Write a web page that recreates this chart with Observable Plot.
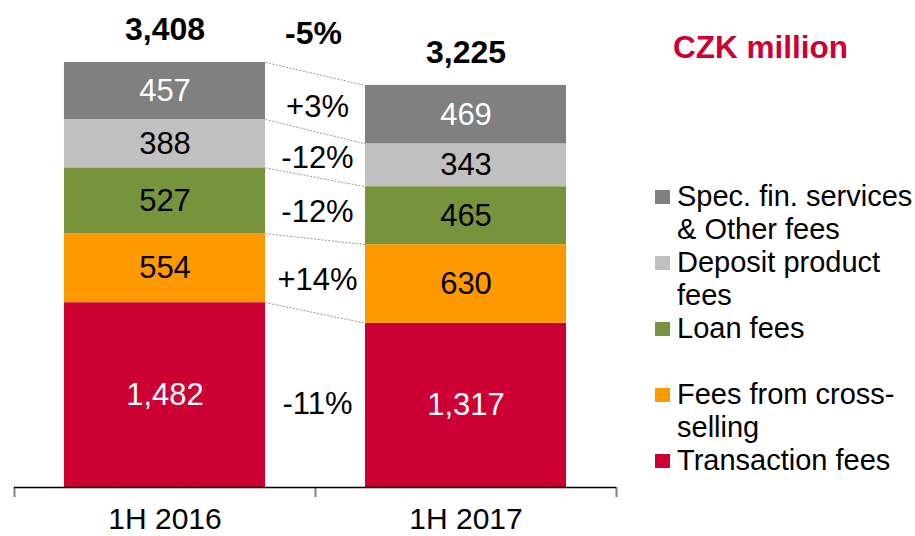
<!DOCTYPE html>
<html><head><meta charset="utf-8">
<script src="https://cdn.jsdelivr.net/npm/d3@7"></script>
<script src="https://cdn.jsdelivr.net/npm/@observablehq/plot@0.6"></script>
<style>
body{margin:0;background:#fff;font-family:"Liberation Sans",Arial,sans-serif;}
#wrap{position:relative;width:915px;height:536px;overflow:hidden;}
#unit{position:absolute;left:673px;top:28px;font-weight:bold;font-size:31.5px;color:#CC0033;line-height:38px;white-space:nowrap;}
#legend{position:absolute;left:655px;top:180px;font-size:29px;line-height:33px;color:#000;}
.item{display:flex;align-items:flex-start;white-space:pre;}
.sw{width:15px;height:14px;margin-top:10px;margin-right:7px;flex:none;}
</style></head>
<body><div id="wrap"><div id="chart"></div><div id="unit">CZK million</div><div id="legend"></div></div>
<script>
const periods = ["1H 2016", "1H 2017"];
const series = ["Transaction fees", "Fees from cross-selling", "Loan fees", "Deposit product fees", "Spec. fin. services & Other fees"];
const transaction = [1482, 1317];
const crossSelling = [554, 630];
const loan = [527, 465];
const deposit = [388, 343];
const specOther = [457, 469];
const totals = [3408, 3225];
const changeLabels = ["-11%", "+14%", "-12%", "-12%", "+3%"];
const totalChange = "-5%";
const colors = ["#CC0033", "#FF9900", "#77933C", "#C0C0C0", "#808080"];
const labelColors = ["#fff", "#000", "#000", "#000", "#fff"];
const legendLabels = ["Transaction fees", "Fees from cross-\nselling", "Loan fees", "Deposit product\nfees", "Spec. fin. services\n& Other fees"];

const values = [transaction, crossSelling, loan, deposit, specOther];
const halfW = 0.334;
const rows = [];
periods.forEach((p, i) => {
  let cum = 0;
  series.forEach((s, si) => {
    const v = values[si][i];
    rows.push({period: p, pi: i, series: s, si, value: v, y1: cum, y2: cum + v, xc: i + 0.5});
    cum += v;
  });
});
const byKey = (pi, si) => rows.find(r => r.pi === pi && r.si === si);
const links = series.map((s, si) => ({
  si,
  x1: 0.5 + halfW, x2: 1.5 - halfW,
  y1: byKey(0, si).y2, y2: byKey(1, si).y2,
  ym: (byKey(0, si).y1 + byKey(0, si).y2 + byKey(1, si).y1 + byKey(1, si).y2) / 4,
  label: changeLabels[si]
}));
const fmt = d3.format(",");
const font = "'Liberation Sans', Arial, sans-serif";

const chart = Plot.plot({
  width: 650, height: 536,
  marginLeft: 14, marginRight: 34, marginTop: 62, marginBottom: 49,
  style: {fontFamily: font, background: "white", color: "#000"},
  x: {type: "linear", domain: [0, periods.length], axis: null},
  y: {domain: [0, d3.max(totals)], axis: null},
  color: {domain: series, range: colors},
  marks: [
    Plot.rect(rows, {x1: d => d.xc - halfW, x2: d => d.xc + halfW, y1: "y1", y2: "y2", fill: "series"}),
    Plot.link(links, {x1: "x1", x2: "x2", y1: "y1", y2: "y2", stroke: "#999", strokeWidth: 1, strokeDasharray: "2,1.5"}),
    Plot.text(rows, {x: "xc", y: d => (d.y1 + d.y2) / 2, text: d => fmt(d.value), fill: d => labelColors[d.si], fontSize: 31}),
    Plot.text(links, {x: 1, y: "ym", text: "label", dx: 2, dy: 4, fontSize: 31, fill: "#000"}),
    Plot.text(periods, {x: (d, i) => i + 0.5, y: (d, i) => totals[i], dy: -33, text: (d, i) => fmt(totals[i]), fontSize: 32, fontWeight: "bold", fill: "#000"}),
    Plot.text([totalChange], {x: 1, y: d3.max(totals), dy: -29, dx: -2, text: d => d, fontSize: 32, fontWeight: "bold", fill: "#000"}),
    Plot.axisX({ticks: d3.range(periods.length + 1), tickSize: 10, tickFormat: () => "", stroke: "#808080", strokeWidth: 2}),
    Plot.ruleY([0], {stroke: "#000", strokeWidth: 1.5}),
    Plot.text(periods, {x: (d, i) => i + 0.5, y: 0, dy: 32, text: d => d, fontSize: 30, fill: "#000"})
  ]
});
document.getElementById("chart").appendChild(chart);

const legend = document.getElementById("legend");
series.map((s, si) => si).reverse().forEach(si => {
  const item = document.createElement("div");
  item.className = "item";
  if (series[si] === "Loan fees") item.style.marginBottom = "33px";
  const sw = document.createElement("div");
  sw.className = "sw";
  sw.style.background = colors[si];
  const tx = document.createElement("div");
  tx.textContent = legendLabels[si];
  item.appendChild(sw); item.appendChild(tx);
  legend.appendChild(item);
});
</script>
</body></html>
